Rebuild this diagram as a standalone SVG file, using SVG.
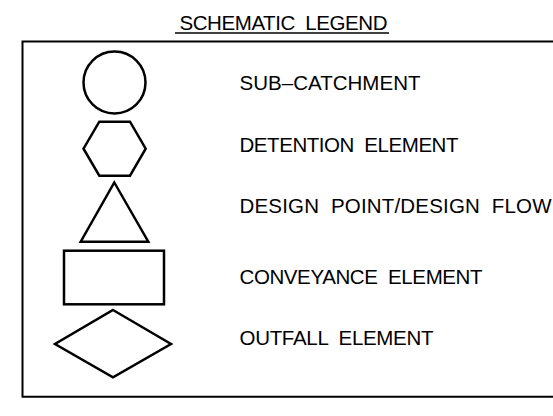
<svg xmlns="http://www.w3.org/2000/svg" width="553" height="416" viewBox="0 0 553 416">
<style>
.sym{fill:none;stroke:#000;stroke-width:2.5;stroke-linejoin:miter}
.lbl{font-family:"Liberation Sans",Arial,sans-serif;font-size:20.5px;fill:#000;white-space:pre}
.frame{fill:none;stroke:#000;stroke-width:2}
</style>
<rect width="553" height="416" fill="#fff"/>
<g id="title">
<text class="lbl" x="179.5" y="29.5" font-size="19.5" textLength="208" lengthAdjust="spacing" xml:space="preserve">SCHEMATIC  LEGEND</text>
<line x1="175" y1="33" x2="389" y2="33" stroke="#000" stroke-width="1.5"/>
</g>
<g id="frame">
<path class="frame" d="M560,41.5 H22.5 V396.7 H560"/>
</g>
<g id="sub-catchment">
<circle class="sym" cx="114.5" cy="82.5" r="31"/>
<text class="lbl" x="239.5" y="90" textLength="181" lengthAdjust="spacing" xml:space="preserve">SUB–CATCHMENT</text>
</g>
<g id="detention">
<polygon class="sym" points="99.3,121.7 130,121.7 145.7,148.7 130,175.7 99.3,175.7 83.5,148.7"/>
<text class="lbl" x="239.5" y="151.5" textLength="219" lengthAdjust="spacing" xml:space="preserve">DETENTION  ELEMENT</text>
</g>
<g id="design-point">
<polygon class="sym" points="114.3,182.5 148.3,241.7 80.7,241.7"/>
<text class="lbl" x="239.5" y="213.3" textLength="312" lengthAdjust="spacing" xml:space="preserve">DESIGN  POINT/DESIGN  FLOW</text>
</g>
<g id="conveyance">
<rect class="sym" x="64" y="250.7" width="100" height="53.6"/>
<text class="lbl" x="239.5" y="284.3" textLength="243" lengthAdjust="spacing" xml:space="preserve">CONVEYANCE  ELEMENT</text>
</g>
<g id="outfall">
<polygon class="sym" points="113,310 171,344 113,377.3 55,344"/>
<text class="lbl" x="239.5" y="345" textLength="194" lengthAdjust="spacing" xml:space="preserve">OUTFALL  ELEMENT</text>
</g>
<g id="connectors"/>
</svg>
